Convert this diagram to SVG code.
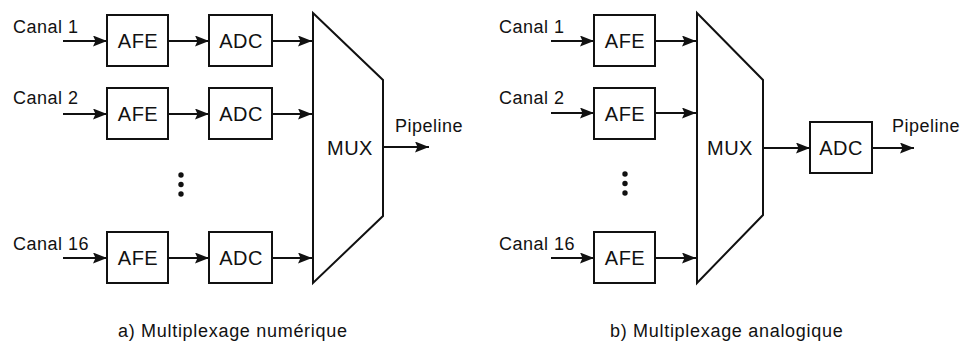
<svg xmlns="http://www.w3.org/2000/svg" width="961" height="343" viewBox="0 0 961 343">
  <style>
    .box { fill: #fff; stroke: #111; stroke-width: 2; }
    .mux { fill: #fff; stroke: #111; stroke-width: 2; stroke-linejoin: miter; }
    .wire { fill: none; stroke: #111; stroke-width: 1.8; marker-end: url(#arrow); }
    .lbl { font-family: "Liberation Sans", Arial, sans-serif; font-size: 20px; letter-spacing: 0.5px; fill: #111; text-anchor: middle; }
    .txt { font-family: "Liberation Sans", Arial, sans-serif; font-size: 18px; letter-spacing: 0.5px; fill: #111; }
    .cap { font-family: "Liberation Sans", Arial, sans-serif; font-size: 18px; letter-spacing: 0.7px; fill: #111; }
    .dot { fill: #111; }
  </style>
  <defs>
    <marker id="arrow" markerUnits="userSpaceOnUse" markerWidth="15" markerHeight="12" refX="14" refY="5.5" orient="auto">
      <path d="M0,0 L14,5.5 L0,11 L2.5,5.5 Z" fill="#111"/>
    </marker>
  </defs>

  <!-- Panel a: digital multiplexing -->
  <g id="a-canal1"><text class="txt" x="13" y="33">Canal 1</text></g>
  <g id="a-canal2"><text class="txt" x="13" y="104">Canal 2</text></g>
  <g id="a-canal16"><text class="txt" x="13" y="250">Canal 16</text></g>

  <g id="a-afe1"><rect class="box" x="107" y="15" width="61" height="51"/><text class="lbl" x="138" y="48">AFE</text></g>
  <g id="a-afe2"><rect class="box" x="107" y="88" width="61" height="51"/><text class="lbl" x="138" y="121">AFE</text></g>
  <g id="a-afe16"><rect class="box" x="107" y="232" width="61" height="51"/><text class="lbl" x="138" y="265">AFE</text></g>

  <g id="a-adc1"><rect class="box" x="209" y="15" width="63" height="51"/><text class="lbl" x="241" y="48">ADC</text></g>
  <g id="a-adc2"><rect class="box" x="209" y="88" width="63" height="51"/><text class="lbl" x="241" y="121">ADC</text></g>
  <g id="a-adc16"><rect class="box" x="209" y="232" width="63" height="51"/><text class="lbl" x="241" y="265">ADC</text></g>

  <g id="a-dots">
    <circle class="dot" cx="181" cy="175" r="2.7"/>
    <circle class="dot" cx="181" cy="184.5" r="2.7"/>
    <circle class="dot" cx="181" cy="194" r="2.7"/>
  </g>

  <g id="a-mux">
    <polygon class="mux" points="313,13 383,80 383,216 313,283"/>
    <text class="lbl" x="350" y="155">MUX</text>
  </g>
  <g id="a-pipeline"><text class="txt" x="395" y="132">Pipeline</text></g>
  <g id="a-caption"><text class="cap" x="118" y="337">a) Multiplexage numérique</text></g>

  <!-- Panel b: analog multiplexing -->
  <g id="b-canal1"><text class="txt" x="499" y="33">Canal 1</text></g>
  <g id="b-canal2"><text class="txt" x="499" y="104">Canal 2</text></g>
  <g id="b-canal16"><text class="txt" x="499" y="250">Canal 16</text></g>

  <g id="b-afe1"><rect class="box" x="594" y="15" width="61" height="51"/><text class="lbl" x="625" y="48">AFE</text></g>
  <g id="b-afe2"><rect class="box" x="594" y="88" width="61" height="51"/><text class="lbl" x="625" y="121">AFE</text></g>
  <g id="b-afe16"><rect class="box" x="594" y="232" width="61" height="51"/><text class="lbl" x="625" y="265">AFE</text></g>

  <g id="b-dots">
    <circle class="dot" cx="625" cy="174" r="2.7"/>
    <circle class="dot" cx="625" cy="183.5" r="2.7"/>
    <circle class="dot" cx="625" cy="193" r="2.7"/>
  </g>

  <g id="b-mux">
    <polygon class="mux" points="697,13 763,80 763,215 697,283"/>
    <text class="lbl" x="730" y="155">MUX</text>
  </g>
  <g id="b-adc"><rect class="box" x="810" y="122" width="62" height="51"/><text class="lbl" x="841" y="155">ADC</text></g>
  <g id="b-pipeline"><text class="txt" x="892" y="132">Pipeline</text></g>
  <g id="b-caption"><text class="cap" x="610" y="337">b) Multiplexage analogique</text></g>

  <!-- Connectors -->
  <g id="connectors">
    <line class="wire" x1="63" y1="41" x2="107" y2="41"/>
    <line class="wire" x1="63" y1="114" x2="107" y2="114"/>
    <line class="wire" x1="63" y1="258" x2="107" y2="258"/>
    <line class="wire" x1="168" y1="41" x2="209" y2="41"/>
    <line class="wire" x1="168" y1="114" x2="209" y2="114"/>
    <line class="wire" x1="168" y1="258" x2="209" y2="258"/>
    <line class="wire" x1="272" y1="41" x2="312" y2="41"/>
    <line class="wire" x1="272" y1="114" x2="312" y2="114"/>
    <line class="wire" x1="272" y1="258" x2="312" y2="258"/>
    <line class="wire" x1="383" y1="147" x2="429" y2="147"/>

    <line class="wire" x1="551" y1="41" x2="594" y2="41"/>
    <line class="wire" x1="551" y1="113" x2="594" y2="113"/>
    <line class="wire" x1="551" y1="258" x2="594" y2="258"/>
    <line class="wire" x1="655" y1="41" x2="696" y2="41"/>
    <line class="wire" x1="655" y1="113" x2="696" y2="113"/>
    <line class="wire" x1="655" y1="258" x2="696" y2="258"/>
    <line class="wire" x1="763" y1="148" x2="810" y2="148"/>
    <line class="wire" x1="872" y1="148" x2="914" y2="148"/>
  </g>
</svg>
